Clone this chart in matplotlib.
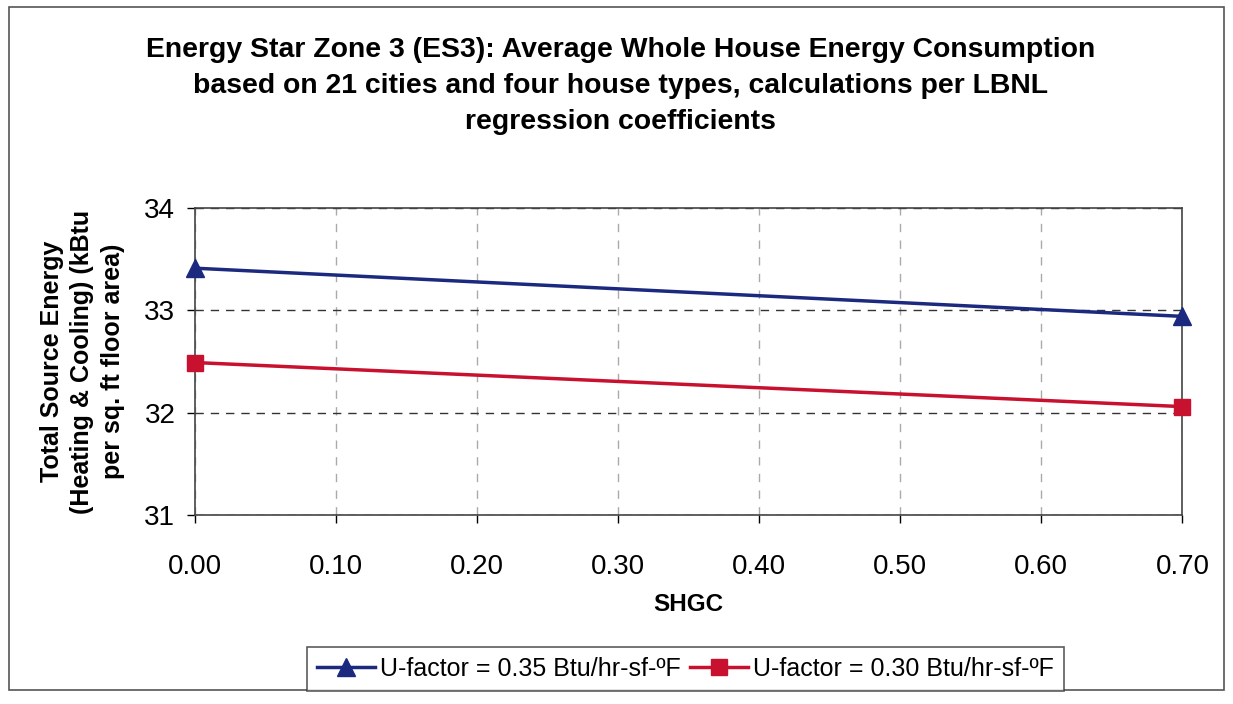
import matplotlib.pyplot as plt
from matplotlib.patches import Rectangle

plt.rcParams['font.family'] = ['Liberation Sans', 'DejaVu Sans']

shgc = [0.0, 0.70]
u035 = [33.41, 32.94]
u030 = [32.49, 32.06]
labels = ['U-factor = 0.35 Btu/hr-sf-\u00baF', 'U-factor = 0.30 Btu/hr-sf-\u00baF']
xticks = [0.0, 0.1, 0.2, 0.3, 0.4, 0.5, 0.6, 0.7]
yticks = [31, 32, 33, 34]

fig = plt.figure(figsize=(12.33, 7.04), dpi=100)
ax = fig.add_axes([0.158, 0.268, 0.801, 0.437])

# chart border like the spreadsheet frame
fig.patches.append(Rectangle((0.007, 0.02), 0.986, 0.97, transform=fig.transFigure,
                             fill=False, edgecolor='#555555', linewidth=1.2))

ax.plot(shgc, u035, color='#1b2a7f', linewidth=2.5, marker='^', markersize=13,
        label=labels[0], clip_on=False, zorder=5)
ax.plot(shgc, u030, color='#c8112f', linewidth=2.5, marker='s', markersize=11,
        label=labels[1], clip_on=False, zorder=5)

ax.set_xlim(0, 0.7)
ax.set_ylim(31, 34)
ax.set_xticks(xticks)
ax.set_xticklabels(['%.2f' % v for v in xticks])
ax.set_yticks(yticks)
ax.tick_params(axis='both', labelsize=20, direction='out', length=6, width=1)
ax.tick_params(axis='x', pad=22)
ax.tick_params(axis='y', pad=8)

ax.yaxis.grid(True, linestyle=(0, (6, 5)), color='#333333', linewidth=1)
ax.xaxis.grid(True, linestyle=(0, (6, 6)), color='#aaaaaa', linewidth=1)
for s in ax.spines.values():
    s.set_color('#444444')
    s.set_linewidth(1.2)

ax.set_xlabel('SHGC', fontsize=17.5, fontweight='bold', labelpad=9)
ax.set_ylabel('Total Source Energy\n(Heating & Cooling) (kBtu\nper sq. ft floor area)',
              fontsize=18, fontweight='bold', labelpad=14, linespacing=1.35)

fig.text(0.503, 0.878,
         'Energy Star Zone 3 (ES3): Average Whole House Energy Consumption\n'
         'based on 21 cities and four house types, calculations per LBNL\n'
         'regression coefficients',
         ha='center', va='center', fontsize=20.4, fontweight='bold', linespacing=1.5)

leg = fig.legend(loc='center', bbox_to_anchor=(0.556, 0.05), ncol=2, fontsize=18,
                 frameon=True, fancybox=False, edgecolor='#333333', handlelength=2.3,
                 handletextpad=0.2, columnspacing=0.4, borderpad=0.4)
leg.get_frame().set_linewidth(1.2)

fig.savefig('out.png', dpi=100)
